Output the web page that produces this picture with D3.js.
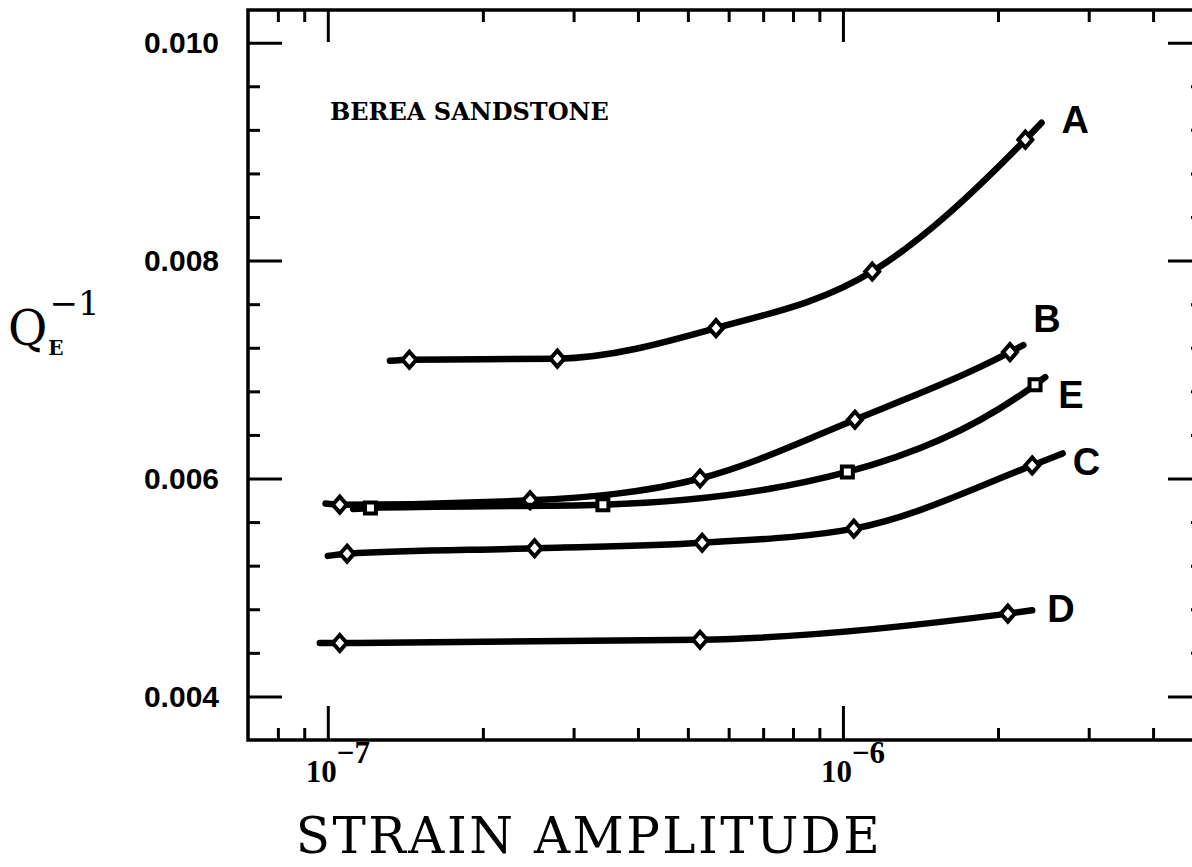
<!DOCTYPE html>
<html>
<head>
<meta charset="utf-8">
<script src="https://cdn.jsdelivr.net/npm/d3@7"></script>
<style>
  body { margin: 0; background: #fff; }
  svg { display: block; }
  .tickLabel { font-family: "Liberation Sans", Arial, sans-serif; font-weight: bold; font-size: 30px; }
  .curveLabel { font-family: "Liberation Sans", Arial, sans-serif; font-weight: bold; font-size: 38px; }
  .serifLabel { font-family: "DejaVu Serif", serif; }
</style>
</head>
<body>
<script>
// Values: strain amplitude (x) against Q_E^-1 (y)

const curveNames = ["A", "B", "E", "C", "D"];

// measured points, one pair of arrays per curve
const strainA = [1.44e-7, 2.79e-7, 5.67e-7, 1.14e-6, 2.26e-6];
const qA      = [0.00709, 0.00710, 0.00738, 0.00790, 0.00911];

const strainB = [1.055e-7, 2.47e-7, 5.28e-7, 1.055e-6, 2.11e-6];
const qB      = [0.00576, 0.00580, 0.00600, 0.00654, 0.00716];

const strainE = [1.21e-7, 3.42e-7, 1.02e-6, 2.36e-6];
const qE      = [0.00573, 0.00576, 0.00606, 0.00686];

const strainC = [1.09e-7, 2.52e-7, 5.33e-7, 1.05e-6, 2.33e-6];
const qC      = [0.00531, 0.00536, 0.00541, 0.00554, 0.00612];

const strainD = [1.055e-7, 5.28e-7, 2.09e-6];
const qD      = [0.00449, 0.00452, 0.00476];

// where each fitted line starts and stops (order of curveNames)
const fitFromStrain = [1.32e-7, 9.9e-8, 1.12e-7, 1.0e-7, 9.65e-8];
const fitFromQ      = [0.00708, 0.00577, 0.00572, 0.00529, 0.00449];
const fitToStrain   = [2.43e-6, 2.24e-6, 2.47e-6, 2.67e-6, 2.33e-6];
const fitToQ        = [0.009265, 0.007225, 0.00693, 0.00623, 0.00479];

// axis ticks
const xMajorTicks = [1e-7, 1e-6];
const xMajorExp   = ["\u22127", "\u22126"];
const xMinorTicks = [8e-8, 9e-8, 2e-7, 3e-7, 4e-7, 5e-7, 6e-7, 7e-7, 8e-7, 9e-7, 2e-6, 3e-6, 4e-6];
const yMajorTicks = [0.004, 0.006, 0.008, 0.010];
const yMinorTicks = [0.0044, 0.0048, 0.0052, 0.0056, 0.0064, 0.0068, 0.0072, 0.0076,
                     0.0084, 0.0088, 0.0092, 0.0096];

const strainSets = [strainA, strainB, strainE, strainC, strainD];
const qSets      = [qA, qB, qE, qC, qD];

// layout
const width = 1192, height = 867;
const majorLen = 34, minorLen = 12;
// label offsets from the end of each fitted line
const labelDx = [20, 10, 13, 10, 15];
const labelDy = [10, -13, 31, 22, 12];

const svg = d3.select("body").append("svg")
    .attr("width", width)
    .attr("height", height);

const x = d3.scaleLog().domain([7e-8, 5e-6]).range([248, 1203]);
const y = d3.scaleLinear().domain([0.0036, 0.0103]).range([740, 10]);

const x0 = x.range()[0], x1 = x.range()[1];
const y0 = y.range()[0], y1 = y.range()[1];

// ticks on all four sides, pointing inwards
function tickGroup(axis, ticks, len, transform) {
    svg.append("g")
        .attr("transform", transform)
        .call(axis.tickValues(ticks).tickSize(-len).tickFormat(""))
        .call(g => g.select(".domain").remove())
        .call(g => g.selectAll("line").attr("stroke", "#000").attr("stroke-width", 3));
}

tickGroup(d3.axisBottom(x), xMajorTicks, majorLen, `translate(0,${y0})`);
tickGroup(d3.axisBottom(x), xMinorTicks, minorLen, `translate(0,${y0})`);
tickGroup(d3.axisTop(x), xMajorTicks, majorLen - 2, `translate(0,${y1})`);
tickGroup(d3.axisTop(x), xMinorTicks, minorLen, `translate(0,${y1})`);
tickGroup(d3.axisLeft(y), yMajorTicks, majorLen, `translate(${x0},0)`);
tickGroup(d3.axisLeft(y), yMinorTicks, minorLen, `translate(${x0},0)`);
tickGroup(d3.axisRight(y), yMajorTicks, majorLen + 1, `translate(${x1},0)`);
tickGroup(d3.axisRight(y), yMinorTicks, minorLen, `translate(${x1},0)`);

// frame
svg.append("rect")
    .attr("x", x0).attr("y", y1)
    .attr("width", x1 - x0).attr("height", y0 - y1)
    .attr("fill", "none")
    .attr("stroke", "#000")
    .attr("stroke-width", 3.5);

// y tick labels
svg.append("g")
    .selectAll("text")
    .data(yMajorTicks)
    .enter()
    .append("text")
    .attr("class", "tickLabel")
    .attr("x", x0 - 29)
    .attr("y", d => y(d))
    .attr("dy", "0.36em")
    .attr("text-anchor", "end")
    .text(d => d3.format(".3f")(d));

// x tick labels 10^-7, 10^-6
const xLab = svg.append("g")
    .selectAll("text")
    .data(xMajorTicks)
    .enter()
    .append("text")
    .attr("x", d => x(d) - 22)
    .attr("y", 782)
    .style("font-family", "'Liberation Serif', serif")
    .style("font-weight", "bold")
    .style("font-size", "31px");
xLab.append("tspan").text("10");
xLab.append("tspan").attr("dy", -19).text((d, i) => xMajorExp[i]);

// fitted curves
const line = d3.line()
    .x(d => x(d[0]))
    .y(d => y(d[1]))
    .curve(d3.curveMonotoneX);

curveNames.forEach((name, i) => {
    const pts = strainSets[i].map((s, j) => [s, qSets[i][j]]);
    const path = [[fitFromStrain[i], fitFromQ[i]]].concat(pts, [[fitToStrain[i], fitToQ[i]]]);

    svg.append("path")
        .datum(path)
        .attr("d", line)
        .attr("fill", "none")
        .attr("stroke", "#000")
        .attr("stroke-width", 6.5)
        .attr("stroke-linecap", "round");

    // markers: squares for E, diamonds for the rest
    const marker = name === "E"
        ? "M-5.5,-5.5L5.5,-5.5L5.5,5.5L-5.5,5.5Z"
        : "M0,-8L7,0L0,8L-7,0Z";

    svg.append("g")
        .selectAll("path")
        .data(pts)
        .enter()
        .append("path")
        .attr("transform", d => `translate(${x(d[0])},${y(d[1])})`)
        .attr("d", marker)
        .attr("fill", "#fff")
        .attr("stroke", "#000")
        .attr("stroke-width", 4);

    svg.append("text")
        .attr("class", "curveLabel")
        .attr("x", x(fitToStrain[i]) + labelDx[i])
        .attr("y", y(fitToQ[i]) + labelDy[i])
        .text(name);
});

// annotation
svg.append("text")
    .attr("class", "serifLabel")
    .attr("x", 330)
    .attr("y", 120)
    .style("font-weight", "bold")
    .style("font-size", "24px")
    .text("BEREA SANDSTONE");

// axis titles
svg.append("text")
    .attr("class", "serifLabel")
    .attr("x", 589)
    .attr("y", 853)
    .attr("text-anchor", "middle")
    .style("font-size", "50px")
    .style("letter-spacing", "2.5px")
    .text("STRAIN AMPLITUDE");

const yTitle = svg.append("text")
    .attr("class", "serifLabel")
    .attr("x", 8)
    .attr("y", 345)
    .style("font-size", "48px");
yTitle.append("tspan").text("Q");
yTitle.append("tspan")
    .attr("dx", 1).attr("dy", 10)
    .style("font-size", "20px").style("font-weight", "bold")
    .text("E");
yTitle.append("tspan")
    .attr("dx", -14).attr("dy", -40)
    .style("font-size", "34px")
    .text("\u22121");
</script>
</body>
</html>
